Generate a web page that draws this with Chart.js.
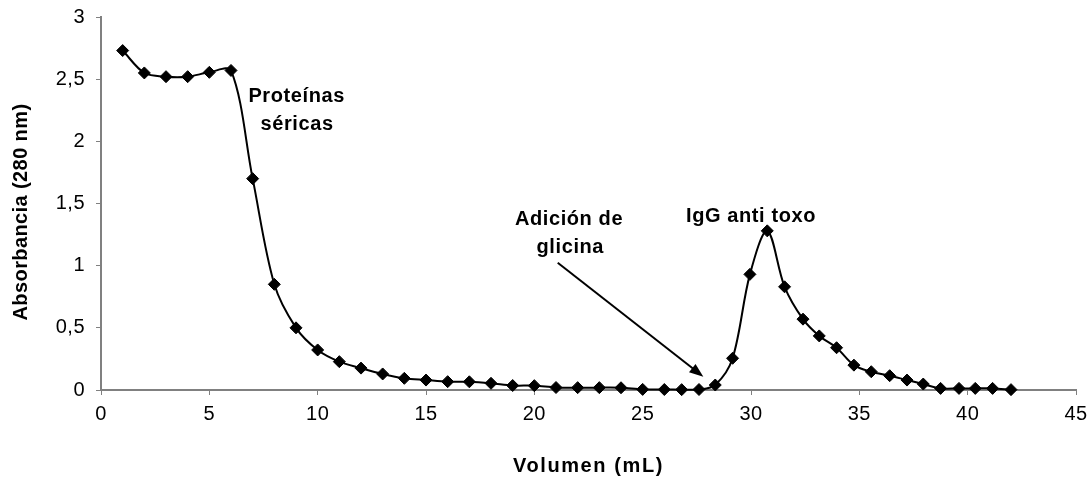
<!DOCTYPE html>
<html>
<head>
<meta charset="utf-8">
<script src="https://cdn.jsdelivr.net/npm/chart.js@4.4.1/dist/chart.umd.min.js"></script>
<style>
  html, body { margin: 0; padding: 0; background: #fff; }
  #wrap { width: 1090px; height: 477px; }
</style>
</head>
<body>
<div id="wrap"><canvas id="c" width="1090" height="477"></canvas></div>
<script>
// Elution profile: volume collected (mL) and absorbance at 280 nm
const volumen = [
  1, 2, 3, 4, 5, 6, 7, 8, 9, 10,
  11, 12, 13, 14, 15, 16, 17, 18, 19, 20,
  21, 22, 23, 24, 25, 26, 26.8, 27.6, 28.35, 29.15,
  29.95, 30.75, 31.55, 32.4, 33.15, 33.95, 34.75, 35.55, 36.4, 37.2,
  37.95, 38.75, 39.6, 40.35, 41.15, 42.0
];
const absorbancia = [
  2.73, 2.55, 2.52, 2.52, 2.555, 2.57, 1.70, 0.85, 0.50, 0.322,
  0.228, 0.176, 0.129, 0.094, 0.08, 0.067, 0.066, 0.054, 0.036, 0.035,
  0.02, 0.019, 0.019, 0.018, 0.005, 0.004, 0.003, 0.004, 0.04, 0.255,
  0.93, 1.28, 0.83, 0.57, 0.435, 0.34, 0.20, 0.147, 0.115, 0.08,
  0.048, 0.013, 0.013, 0.013, 0.013, 0.003
];

// Axis tick values and their printed labels
const xTickValues = [0, 5, 10, 15, 20, 25, 30, 35, 40, 45];
const yTickValues = [0, 0.5, 1, 1.5, 2, 2.5, 3];
const yTickLabels = ['0', '0,5', '1', '1,5', '2', '2,5', '3'];

const xTitle = 'Volumen (mL)';
const yTitle = 'Absorbancia (280 nm)';

// Text notes placed in data units (x = mL, y = absorbance, text baseline)
const notes = [
  { text: 'Proteínas', x: 9.03, y: 2.32 },
  { text: 'séricas', x: 9.05, y: 2.09 },
  { text: 'Adición de', x: 21.6, y: 1.327 },
  { text: 'glicina', x: 21.66, y: 1.10 },
  { text: 'IgG anti toxo', x: 30.0, y: 1.354 }
];
const arrowFrom = [21.08, 1.024];
const arrowTo = [27.8, 0.107];

const FONT = '"Liberation Sans", Arial, Helvetica, sans-serif';
const AXIS_GREY = '#808080';

// Keep the plot area exactly where layout.padding puts it
function noScalePadding(s) {
  s.paddingTop = 0; s.paddingBottom = 0; s.paddingLeft = 0; s.paddingRight = 0;
}

const overlay = {
  id: 'overlay',
  beforeDraw(chart) {
    chart.ctx.letterSpacing = '0.5px';
  },
  afterDraw(chart) {
    const { ctx, scales: { x, y }, chartArea: a } = chart;
    ctx.save();
    ctx.fillStyle = '#000';
    ctx.strokeStyle = '#000';

    // notes
    ctx.font = 'bold 20px ' + FONT;
    ctx.letterSpacing = '0.6px';
    ctx.textAlign = 'center';
    ctx.textBaseline = 'alphabetic';
    notes.forEach(n => {
      ctx.fillText(n.text, x.getPixelForValue(n.x), y.getPixelForValue(n.y));
    });

    // arrow toward the glycine addition point
    const x0 = x.getPixelForValue(arrowFrom[0]);
    const y0 = y.getPixelForValue(arrowFrom[1]);
    const x1 = x.getPixelForValue(arrowTo[0]);
    const y1 = y.getPixelForValue(arrowTo[1]);
    const ang = Math.atan2(y1 - y0, x1 - x0);
    const head = 15, spread = 0.36;
    ctx.lineWidth = 2;
    ctx.beginPath();
    ctx.moveTo(x0, y0);
    ctx.lineTo(x1 - head * 0.8 * Math.cos(ang), y1 - head * 0.8 * Math.sin(ang));
    ctx.stroke();
    ctx.beginPath();
    ctx.moveTo(x1, y1);
    ctx.lineTo(x1 - head * Math.cos(ang - spread), y1 - head * Math.sin(ang - spread));
    ctx.lineTo(x1 - head * Math.cos(ang + spread), y1 - head * Math.sin(ang + spread));
    ctx.closePath();
    ctx.fill();

    // axis titles
    ctx.font = 'bold 20px ' + FONT;
    ctx.letterSpacing = '1.6px';
    ctx.fillText(xTitle, (a.left + a.right) / 2, 472);

    ctx.letterSpacing = '0.4px';
    ctx.translate(27, 212);
    ctx.rotate(-Math.PI / 2);
    ctx.fillText(yTitle, 0, 0);
    ctx.restore();
  }
};

new Chart(document.getElementById('c'), {
  type: 'line',
  data: {
    datasets: [{
      data: volumen.map((v, i) => ({ x: v, y: absorbancia[i] })),
      borderColor: '#000',
      borderWidth: 2,
      tension: 0.33,
      pointStyle: 'rectRot',
      pointRadius: 6,
      pointBorderWidth: 1,
      pointBackgroundColor: '#000',
      pointBorderColor: '#000',
      clip: false
    }]
  },
  options: {
    responsive: false,
    animation: false,
    devicePixelRatio: 1,
    layout: { padding: { top: 17, right: 14, left: 0, bottom: 0 } },
    plugins: {
      legend: { display: false },
      tooltip: { enabled: false }
    },
    scales: {
      x: {
        type: 'linear',
        min: 0, max: 45,
        afterFit(s) { s.height = 87; noScalePadding(s); },
        afterBuildTicks(s) { s.ticks = xTickValues.map(v => ({ value: v })); },
        border: { color: AXIS_GREY, width: 2 },
        grid: { drawOnChartArea: false, drawTicks: true, tickLength: 5, color: AXIS_GREY, lineWidth: 1 },
        ticks: {
          color: '#000',
          font: { family: FONT, size: 20 },
          padding: 7,
          maxRotation: 0,
          autoSkip: false,
          callback: v => String(v)
        }
      },
      y: {
        type: 'linear',
        min: 0, max: 3,
        afterFit(s) { s.width = 101; noScalePadding(s); },
        afterBuildTicks(s) { s.ticks = yTickValues.map(v => ({ value: v })); },
        border: { color: AXIS_GREY, width: 2 },
        grid: { drawOnChartArea: false, drawTicks: true, tickLength: 5, color: AXIS_GREY, lineWidth: 1 },
        ticks: {
          color: '#000',
          font: { family: FONT, size: 20 },
          padding: 11,
          autoSkip: false,
          callback: v => yTickLabels[yTickValues.indexOf(v)]
        }
      }
    }
  },
  plugins: [overlay]
});
</script>
</body>
</html>
